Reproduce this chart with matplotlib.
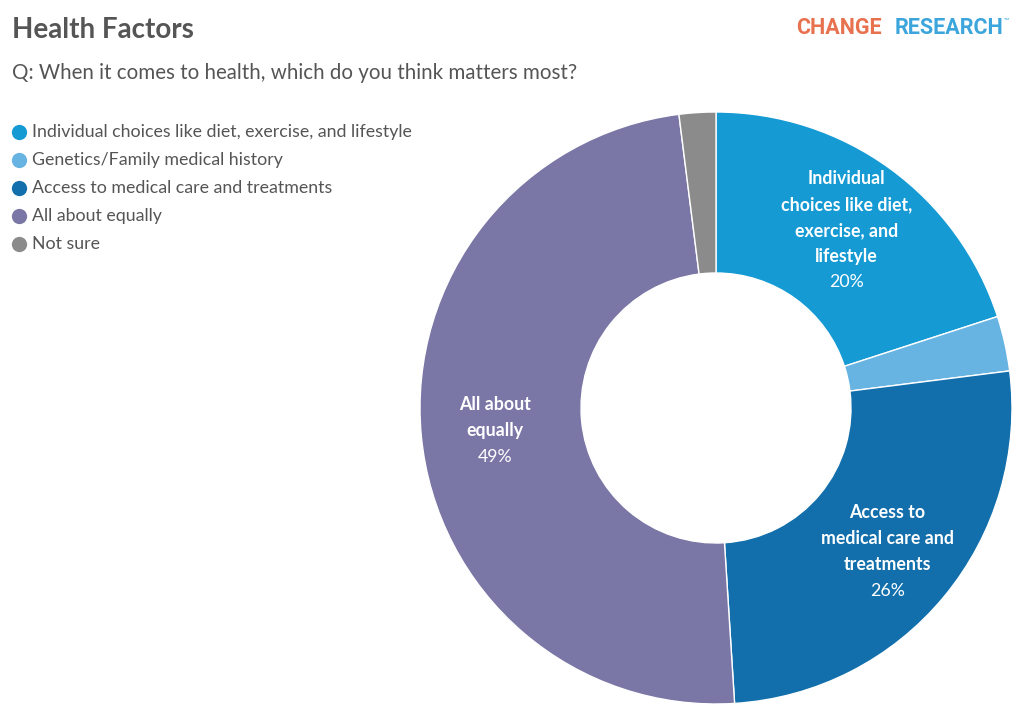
import numpy as np
import matplotlib
matplotlib.use("Agg")
import matplotlib.pyplot as plt
from matplotlib.lines import Line2D

categories = ["Individual choices like diet, exercise, and lifestyle",
              "Genetics/Family medical history",
              "Access to medical care and treatments",
              "All about equally",
              "Not sure"]
values = [20, 3, 26, 49, 2]
wrapped = ["Individual\nchoices like diet,\nexercise, and\nlifestyle",
           None,
           "Access to\nmedical care and\ntreatments",
           "All about\nequally",
           None]
colors = ["#159ad3", "#67b3e2", "#126fab", "#7a76a5", "#8b8b8b"]

plt.rcParams['font.family'] = ['Lato', 'DejaVu Sans']

W, H = 1024, 717
fig = plt.figure(figsize=(W/100, H/100), dpi=100)
fig.patch.set_facecolor("white")

cx, cy, R = 716, 408, 296
ax = fig.add_axes([(cx-R)/W, (H-cy-R)/H, 2*R/W, 2*R/H])
wedges, _ = ax.pie(values, colors=colors, startangle=90, counterclock=False,
                   radius=1.0, wedgeprops=dict(width=1-135/296, edgecolor="white", linewidth=1))
ax.set_xlim(-1, 1); ax.set_ylim(-1, 1)
ax.set_aspect("equal")
ax.axis("off")

# labels
total = sum(values)
cum = 0
for v, lab in zip(values, wrapped):
    mid = 90 - (cum + v/2)/total*360
    cum += v
    if lab is None:
        continue
    r = 0.75
    x, y = r*np.cos(np.radians(mid)), r*np.sin(np.radians(mid))
    y -= 2/R
    lines = lab.split("\n")
    n = len(lines) + 1
    step = 26/R
    y0 = y + (n-1)/2*step
    for i, ln in enumerate(lines):
        ax.text(x, y0 - i*step, ln, ha="center", va="center", color="white",
                fontsize=12.8, fontweight="bold")
    ax.text(x, y0 - len(lines)*step, f"{v}%", ha="center", va="center", color="white",
            fontsize=12.8)

# title
fig.text(12/W, 1-30/H, "Health Factors", ha="left", va="center", fontsize=20,
         fontweight="bold", color="#555555")
fig.text(12/W, 1-73/H, "Q: When it comes to health, which do you think matters most?",
         ha="left", va="center", fontsize=14.8, color="#555555")

# logo
fig.text(1003/W, 1-28/H, "RESEARCH", ha="right", va="center", fontsize=15.5,
         fontweight="bold", color="#3ba5dc", family="Roboto")
fig.text(882/W, 1-28/H, "CHANGE", ha="right", va="center", fontsize=15.5,
         fontweight="bold", color="#e8714f", family="Roboto")
fig.text(1004/W, 1-20/H, "™", ha="left", va="center", fontsize=5, color="#3ba5dc")

# legend
for i, (c, col) in enumerate(zip(categories, colors)):
    y = 1 - (132 + 28*i)/H
    fig.add_artist(Line2D([19/W], [y], marker="o", markersize=11, color=col,
                          markeredgewidth=0, transform=fig.transFigure))
    fig.text(32/W, y, c, ha="left", va="center", fontsize=12.8, color="#555555")

fig.savefig("out.png", dpi=100, facecolor="white")
